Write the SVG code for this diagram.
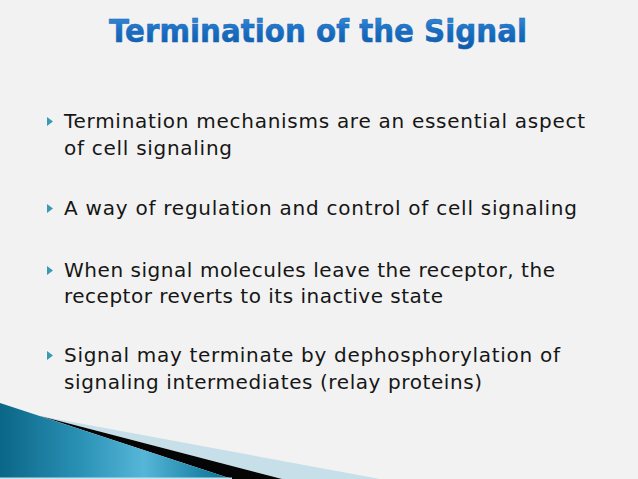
<svg xmlns="http://www.w3.org/2000/svg" width="638" height="479" viewBox="0 0 638 479">
  <defs>
    <linearGradient id="titleGrad" x1="0" y1="0" x2="0" y2="1">
      <stop offset="0" stop-color="#3f95dc"/>
      <stop offset="0.5" stop-color="#1b6ec2"/>
      <stop offset="1" stop-color="#0e5aa8"/>
    </linearGradient>
    <linearGradient id="blueGrad" x1="0" y1="0" x2="232" y2="0" gradientUnits="userSpaceOnUse">
      <stop offset="0" stop-color="#0b6687"/>
      <stop offset="0.35" stop-color="#2a92b6"/>
      <stop offset="0.62" stop-color="#56b6d8"/>
      <stop offset="0.85" stop-color="#2289ad"/>
      <stop offset="1" stop-color="#0f6f90"/>
    </linearGradient>
    <style>
      .body { font-family: "DejaVu Sans", "Liberation Sans", sans-serif; font-size: 20px; fill: #161616; }
      .title { font-family: "DejaVu Sans", "Liberation Sans", sans-serif; font-size: 29px; font-weight: bold; fill: url(#titleGrad); stroke: #1465b8; stroke-width: 0.5; }
      .bullet { fill: #3a9ab3; }
    </style>
  </defs>
  <rect id="background" x="0" y="0" width="638" height="479" fill="#f2f2f2"/>

  <g id="decoration">
    <polygon points="40,416 380,479 282,479" fill="#c7dfe9"/>
    <polygon points="40,416 282,479 232,479" fill="#050505"/>
    <polygon points="0,403 232,479 0,479" fill="url(#blueGrad)"/>
    <rect x="0" y="477.5" width="232" height="1.5" fill="#bfe6f2"/>
  </g>

  <g id="title">
    <text class="title" x="109" y="0" transform="translate(0,42) scale(1,1.12)" textLength="418" lengthAdjust="spacingAndGlyphs">Termination of the Signal</text>
  </g>

  <g id="bullet1">
    <polygon class="bullet" points="47,117 53,121.5 47,126"/>
    <text class="body" x="64" y="128" textLength="521" lengthAdjust="spacing">Termination mechanisms are an essential aspect</text>
    <text class="body" x="64" y="155" textLength="168" lengthAdjust="spacing">of cell signaling</text>
  </g>

  <g id="bullet2">
    <polygon class="bullet" points="47,204 53,208.5 47,213"/>
    <text class="body" x="64" y="215" textLength="513" lengthAdjust="spacing">A way of regulation and control of cell signaling</text>
  </g>

  <g id="bullet3">
    <polygon class="bullet" points="47,266 53,270.5 47,275"/>
    <text class="body" x="64" y="277" textLength="491" lengthAdjust="spacing">When signal molecules leave the receptor, the</text>
    <text class="body" x="64" y="303" textLength="379" lengthAdjust="spacing">receptor reverts to its inactive state</text>
  </g>

  <g id="bullet4">
    <polygon class="bullet" points="47,351 53,355.5 47,360"/>
    <text class="body" x="64" y="362" textLength="496" lengthAdjust="spacing">Signal may terminate by dephosphorylation of</text>
    <text class="body" x="64" y="389" textLength="418" lengthAdjust="spacing">signaling intermediates (relay proteins)</text>
  </g>
</svg>
